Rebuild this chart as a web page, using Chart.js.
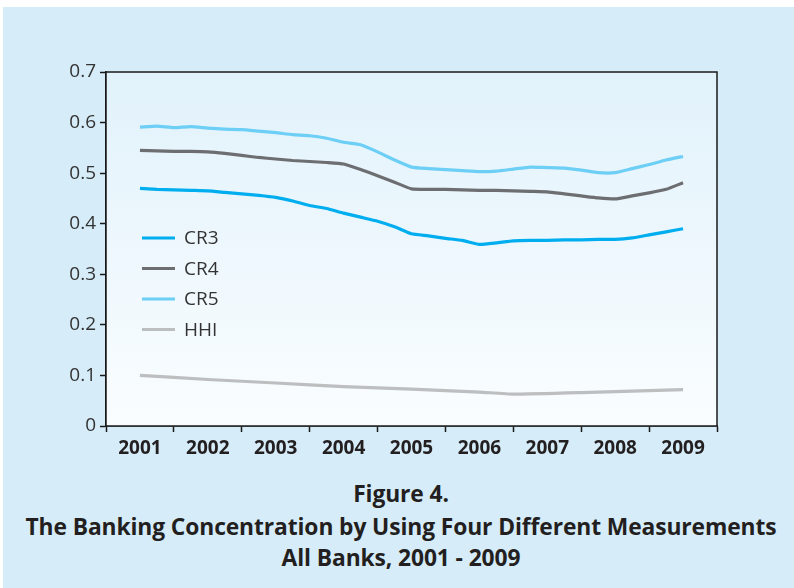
<!DOCTYPE html>
<html>
<head>
<meta charset="utf-8">
<script src="https://cdn.jsdelivr.net/npm/chart.js@4.4.0/dist/chart.umd.min.js"></script>
<style>
  body { margin: 0; background: #fff; width: 794px; height: 588px; overflow: hidden; position: relative; font-family: "Open Sans", sans-serif; }
  #panel { position: absolute; left: 3px; top: 7px; right: 0; bottom: 0; background: #d6ecf9; }
  #wrap { position: absolute; left: 0; top: 0; width: 794px; height: 470px; }
  .cap { position: absolute; left: 0; width: 802px; text-align: center; font-weight: 700; font-size: 22.8px; letter-spacing: -0.1px; color: #231f20; line-height: 28px; }
</style>
</head>
<body>
<div id="panel"></div>
<div id="wrap"><canvas id="line-chart"></canvas></div>
<div class="cap" style="top:480px">Figure 4.</div>
<div class="cap" style="top:513px">The Banking Concentration by Using Four Different Measurements</div>
<div class="cap" style="top:544px">All Banks, 2001 - 2009</div>
<script>
// quarterly positions, 2001 .. 2009
const quarters = [2001, 2001.25, 2001.5, 2001.75, 2002, 2002.25, 2002.5, 2002.75,
  2003, 2003.25, 2003.5, 2003.75, 2004, 2004.25, 2004.5, 2004.75,
  2005, 2005.25, 2005.5, 2005.75, 2006, 2006.25, 2006.5, 2006.75,
  2007, 2007.25, 2007.5, 2007.75, 2008, 2008.25, 2008.5, 2008.75, 2009];
const years = [2001, 2002, 2003, 2004, 2005, 2006, 2007, 2008, 2009];
const yTicks = [0, 0.1, 0.2, 0.3, 0.4, 0.5, 0.6, 0.7];

const cr3 = [0.470, 0.468, 0.467, 0.466, 0.465, 0.462, 0.459, 0.456,
  0.452, 0.445, 0.436, 0.430, 0.421, 0.413, 0.405, 0.394,
  0.380, 0.376, 0.371, 0.367, 0.359, 0.362, 0.366, 0.367,
  0.367, 0.368, 0.368, 0.369, 0.369, 0.372, 0.378, 0.384, 0.390];
const cr4 = [0.545, 0.544, 0.543, 0.543, 0.542, 0.539, 0.535, 0.531,
  0.528, 0.525, 0.523, 0.521, 0.518, 0.507, 0.495, 0.482,
  0.469, 0.468, 0.468, 0.467, 0.466, 0.466, 0.465, 0.464,
  0.463, 0.459, 0.455, 0.451, 0.449, 0.455, 0.461, 0.468, 0.481];
const cr5 = [0.591, 0.593, 0.590, 0.592, 0.589, 0.587, 0.586, 0.583,
  0.580, 0.576, 0.574, 0.569, 0.561, 0.556, 0.542, 0.526,
  0.512, 0.509, 0.507, 0.505, 0.503, 0.504, 0.508, 0.512,
  0.511, 0.510, 0.506, 0.501, 0.501, 0.509, 0.517, 0.526, 0.533];
const hhi = [0.100, null, null, null, 0.092, null, null, null,
  0.085, null, null, null, 0.078, null, null, null,
  0.073, null, null, null, 0.067, null, 0.063, null,
  null, null, 0.066, null, null, null, null, null, 0.072];

const seriesNames = ['CR3', 'CR4', 'CR5', 'HHI'];
const seriesData = [cr3, cr4, cr5, hhi];
const seriesColors = ['#00aeef', '#6d6e71', '#6dcff6', '#bcbec0'];

// plot area background + frame, and the legend drawn inside the plot
const plotBox = {
  id: 'plotBox',
  beforeDatasetsDraw(chart) {
    const { ctx, chartArea: a } = chart;
    const g = ctx.createLinearGradient(0, a.top, 0, a.bottom);
    g.addColorStop(0, '#e1f2fb');
    g.addColorStop(1, '#fafdff');
    ctx.save();
    ctx.fillStyle = g;
    ctx.fillRect(a.left, a.top, a.right - a.left, a.bottom - a.top);
    ctx.restore();
  },
  afterDatasetsDraw(chart) {
    const { ctx, chartArea: a } = chart;
    ctx.save();
    ctx.strokeStyle = '#1a1a1a';
    ctx.lineWidth = 1.5;
    ctx.strokeRect(a.left, a.top, a.right - a.left, a.bottom - a.top);
    // legend
    ctx.font = '19px "Open Sans"';
    ctx.textBaseline = 'middle';
    chart.data.datasets.forEach((ds, i) => {
      const y = a.top + 166 + i * 30.5;
      const x = a.left + 36;
      ctx.strokeStyle = ds.borderColor;
      ctx.lineWidth = 3.2;
      ctx.beginPath();
      ctx.moveTo(x, y);
      ctx.lineTo(x + 33, y);
      ctx.stroke();
      ctx.fillStyle = '#333';
      ctx.fillText(ds.label, x + 42, y + 1);
    });
    ctx.restore();
  }
};

new Chart(document.getElementById('line-chart').getContext('2d'), {
  type: 'line',
  data: {
    datasets: seriesNames.map((name, i) => ({
      label: name,
      data: seriesData[i].map((v, j) => ({ x: quarters[j], y: v })),
      borderColor: seriesColors[i],
      backgroundColor: seriesColors[i],
      borderWidth: 3.2,
      pointRadius: 0,
      tension: 0.15,
      spanGaps: true,
      fill: false
    }))
  },
  options: {
    responsive: true,
    maintainAspectRatio: false,
    animation: false,
    layout: { padding: { left: 56, right: 77, top: 72, bottom: 0 } },
    plugins: { legend: { display: false }, tooltip: { enabled: false } },
    scales: {
      x: {
        type: 'linear',
        min: 2000.5,
        max: 2009.5,
        afterBuildTicks: s => {
          const t = [];
          for (let k = 0; k <= years.length * 2; k++) t.push({ value: 2000.5 + k * 0.5 });
          s.ticks = t;
        },
        afterFit: s => { s.height = 44; },
        grid: {
          drawOnChartArea: false,
          tickLength: 6,
          tickColor: c => (years.includes(c.tick && c.tick.value) ? 'rgba(0,0,0,0)' : '#1a1a1a'),
          tickWidth: 1.5
        },
        border: { color: '#1a1a1a', width: 1.5 },
        ticks: {
          autoSkip: false,
          maxRotation: 0,
          padding: 5,
          color: '#231f20',
          font: { family: 'Open Sans', size: 19, weight: 'bold' },
          callback: v => (years.includes(v) ? String(v) : '')
        }
      },
      y: {
        min: 0,
        max: 0.7,
        afterBuildTicks: s => { s.ticks = yTicks.map(v => ({ value: v })); },
        afterFit: s => { s.width = 50; },
        grid: { drawOnChartArea: false, tickLength: 6, tickColor: '#1a1a1a', tickWidth: 1.5 },
        border: { color: '#1a1a1a', width: 1.5 },
        ticks: {
          padding: 4,
          color: '#333',
          font: { family: 'Open Sans', size: 19 },
          callback: v => String(Math.round(v * 10) / 10)
        }
      }
    }
  },
  plugins: [plotBox]
});
</script>
</body>
</html>
